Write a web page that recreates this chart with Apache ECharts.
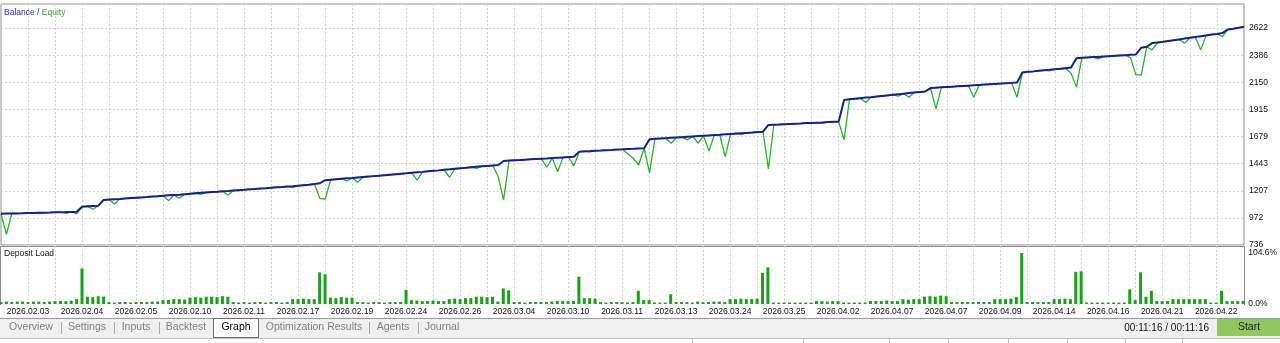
<!DOCTYPE html>
<html>
<head>
<meta charset="utf-8">
<script src="https://cdn.jsdelivr.net/npm/echarts@6/dist/echarts.min.js"></script>
<style>
html,body{margin:0;padding:0;background:#fff;}
#chart{width:1280px;height:343px;}
</style>
</head>
<body>
<div id="chart"></div>
<script>
// ---- data ----
const xLabels = ['2026.02.03','2026.02.04','2026.02.05','2026.02.10','2026.02.11','2026.02.17','2026.02.19','2026.02.24','2026.02.26','2026.03.04','2026.03.10','2026.03.11','2026.03.13','2026.03.24','2026.03.25','2026.04.02','2026.04.07','2026.04.07','2026.04.09','2026.04.14','2026.04.16','2026.04.21','2026.04.22'];
const yTicks = [736,972,1207,1443,1679,1915,2150,2386,2622];
const depositTicks = [0, 104.6];

const balance = [
1008,1009,1010,1011,1012,1014,1015,1016,1017,1018,1020,1021,1022,1024,1025,
1069,1072,1075,1078,
1128,1131,1134,1137,1141,1144,1147,1150,1153,1157,1160,1164,1168,1171,1174,1178,1182,1186,1190,1193,1196,1199,1203,1206,1210,1213,1216,1220,1223,1227,1230,1234,1238,1241,1245,1248,1252,1256,1260,1266,1273,
1300,1304,1308,1312,1316,1319,1323,1327,1331,1335,1339,1343,1347,1351,
1355,1359,1364,1368,1372,1377,1381,1385,1390,1394,1399,1403,1407,1412,1416,1420,1424,1428,1432,
1467,1470,1473,1475,1478,1481,1484,1487,1489,1492,1495,1498,1501,1504,
1548,1551,1553,1556,1558,1561,1563,1566,1568,1571,1573,1576,1578,
1656,1659,1662,1665,1668,1671,1674,1677,1680,1683,1686,1689,1692,1695,1699,1702,1705,1708,1711,1714,1718,1722,
1780,1782,1784,1787,1789,1791,1793,1796,1798,1800,1802,1805,1807,1809,
1998,2003,2008,2013,2018,2022,2027,2032,2037,2042,2047,2052,2057,2062,2067,2071,
2101,2104,2107,2110,2113,2116,2119,2122,2125,2128,2131,2134,2137,2140,2143,2146,2149,
2237,2242,2246,2251,2256,2260,2265,2269,2274,2279,
2361,2364,2367,2370,2372,2375,2378,2381,2384,2387,2390,
2393,2452,2460,2492,
2497,2503,2510,2517,2524,2531,2538,2545,2552,2559,2566,2572,2579,
2610,2617,2625,2634
];

// equity differs from balance only at these trade indices: [index, equity]
const equityDips = [
[1,829],[7,1010],[12,1012],[14,1006],[17,1047],[21,1093],[31,1122],[33,1142],[37,1177],[42,1171],[54,1235],
[59,1140],[60,1136],[64,1293],[66,1282],[77,1300],[83,1325],[88,1402],[92,1330],[93,1128],[101,1412],[103,1374],
[106,1424],[109,1545],[116,1530],[117,1490],[118,1432],[120,1365],[124,1621],[127,1650],[129,1621],[131,1554],
[134,1505],[137,1698],[142,1397],[152,1795],[156,1650],[160,1975],[166,2030],[168,2022],[173,1920],[180,2021],
[188,2021],[194,2250],[198,2230],[199,2109],[203,2355],[209,2366],[210,2216],[211,2216],[213,2433],[219,2492],
[222,2433],[226,2549]
];

const depositLoad = [
4,5,4,5,5,4,5,5,4,5,
6,6,6,7,
10,73,
15,14,16,15,
4,3,4,4,3,4,4,4,5,5,
8,8,10,10,9,
13,14,13,15,15,14,16,15,
4,3,4,3,4,4,3,4,4,3,4,
10,10,11,10,10,
65,61,
13,12,14,13,13,
4,4,3,4,4,3,4,4,4,
29,
8,7,6,6,7,6,6,
10,11,10,12,12,15,15,14,15,
5,32,28,
4,4,3,4,4,4,4,5,6,6,6,
6,56,
12,12,11,
4,3,4,4,4,3,4,
27,8,8,
3,3,3,20,
4,4,4,3,5,4,4,5,5,4,
10,10,11,10,10,11,
64,75,
3,3,3,3,3,3,3,3,
6,6,5,6,6,
3,3,3,3,3,
6,6,6,7,6,6,
10,9,10,10,
15,16,15,17,16,
4,4,4,4,4,4,4,4,
10,10,10,11,
14,104.6,
4,4,4,4,4,
10,10,11,10,
66,67,
3,3,3,3,3,3,3,3,
30,8,65,15,27,
6,6,6,
10,10,10,10,10,10,10,
3,3,27,
6,6,6,6
];

// ---- build ----
const equity = balance.slice();
equityDips.forEach(function(d){ equity[d[0]] = d[1]; });
const cats = balance.map(function(_, i){ return i % 10 === 5 ? xLabels[(i - 5) / 10] : ''; });

const FONT = '"Liberation Sans", Arial, sans-serif';
const Y0 = 736, YSTEP = 235.75;
const gridLine = { show: true, lineStyle: { color: '#d4d4d4', type: [2, 2], width: 1 } };
const splitIdx = function(i){ return i % 5 === 0 && i > 0 && i < balance.length - 1; };

const chart = echarts.init(document.getElementById('chart'), null, { renderer: 'canvas' });

const tabs = [
  ['Overview', 31], ['Settings', 87], ['Inputs', 136], ['Backtest', 186], ['Graph', 236],
  ['Optimization Results', 314], ['Agents', 393], ['Journal', 442]
];
const seps = [61, 114, 159, 369, 418];
const bottomTicks = [692, 803, 889, 948, 1008, 1067, 1125, 1182];

const graphic = [];
graphic.push({ type: 'rect', z: 0, shape: { x: 0, y: 318, width: 1280, height: 20 }, style: { fill: '#f0f0f0' } });
graphic.push({ type: 'line', shape: { x1: 0, y1: 318.5, x2: 1280, y2: 318.5 }, style: { stroke: '#9a9a9a', lineWidth: 1 } });
graphic.push({ type: 'line', shape: { x1: 0, y1: 338.5, x2: 1280, y2: 338.5 }, style: { stroke: '#c4c4c4', lineWidth: 1 } });
graphic.push({ type: 'rect', shape: { x: 213.5, y: 318.5, width: 45, height: 19 }, style: { fill: '#ffffff', stroke: '#6e6e6e', lineWidth: 1 } });
tabs.forEach(function(t){
  graphic.push({ type: 'text', x: t[1], y: 327.5, style: { text: t[0], fill: t[0] === 'Graph' ? '#000' : '#808080', font: '10.5px ' + FONT, textAlign: 'center', textVerticalAlign: 'middle' } });
});
seps.forEach(function(x){
  graphic.push({ type: 'line', shape: { x1: x + 0.5, y1: 322, x2: x + 0.5, y2: 334 }, style: { stroke: '#a8a8a8', lineWidth: 1 } });
});
bottomTicks.forEach(function(x){
  graphic.push({ type: 'line', shape: { x1: x + 0.5, y1: 339, x2: x + 0.5, y2: 343 }, style: { stroke: '#b8b8b8', lineWidth: 1 } });
});
graphic.push({ type: 'text', x: 1209, y: 328, style: { text: '00:11:16 / 00:11:16', fill: '#111', font: '10px ' + FONT, textAlign: 'right', textVerticalAlign: 'middle' } });
graphic.push({ type: 'rect', shape: { x: 1217, y: 319, width: 63, height: 17 }, style: { fill: '#8fc85c' } });
graphic.push({ type: 'text', x: 1249, y: 327.5, style: { text: 'Start', fill: '#1a1a1a', font: '10.5px ' + FONT, textAlign: 'center', textVerticalAlign: 'middle' } });
// panel borders for deposit load
graphic.push({ type: 'line', shape: { x1: 0.5, y1: 246.5, x2: 1244.5, y2: 246.5 }, style: { stroke: '#8c8c8c', lineWidth: 1 } });
graphic.push({ type: 'line', shape: { x1: 0.5, y1: 246, x2: 0.5, y2: 305 }, style: { stroke: '#8c8c8c', lineWidth: 1 } });
graphic.push({ type: 'line', shape: { x1: 1244.5, y1: 246, x2: 1244.5, y2: 305 }, style: { stroke: '#8c8c8c', lineWidth: 1 } });
// captions
graphic.push({ type: 'text', x: 4, y: 13, z: 10, style: {
  text: '{b|Balance} {s|/} {g|Equity}', font: '8.5px ' + FONT, textVerticalAlign: 'middle',
  rich: { b: { fill: '#2b2bb0', font: '8.5px ' + FONT }, s: { fill: '#444', font: '8.5px ' + FONT }, g: { fill: '#2eaa2e', font: '8.5px ' + FONT } }
} });
graphic.push({ type: 'text', x: 4, y: 253.5, z: 10, style: { text: 'Deposit Load', fill: '#111', font: '8.5px ' + FONT, textVerticalAlign: 'middle' } });

const option = {
  animation: false,
  backgroundColor: '#ffffff',
  grid: [
    { left: 1, top: 4, right: 36, height: 241, show: true, borderColor: '#8c8c8c', borderWidth: 1, backgroundColor: '#fff' },
    { left: 1, top: 246, right: 36, height: 58, show: false }
  ],
  xAxis: [
    { type: 'category', gridIndex: 0, data: cats, boundaryGap: false,
      axisLine: { show: false }, axisTick: { show: false }, axisLabel: { show: false },
      splitLine: Object.assign({ interval: splitIdx }, gridLine) },
    { type: 'category', gridIndex: 1, data: cats, boundaryGap: false,
      axisLine: { show: false }, axisTick: { show: false },
      axisLabel: { show: true, interval: function(i, v){ return v !== ''; }, color: '#111', fontSize: 8.5, fontFamily: FONT, margin: 3 },
      splitLine: Object.assign({ interval: splitIdx }, gridLine) }
  ],
  yAxis: [
    { type: 'value', gridIndex: 0, position: 'right', min: Y0, max: 2832, interval: YSTEP,
      axisLine: { show: false }, axisTick: { show: false },
      axisLabel: { color: '#111', fontSize: 8.5, fontFamily: FONT, margin: 5,
        formatter: function(v){ const k = Math.round((v - Y0) / YSTEP); return (Math.abs(v - (Y0 + k * YSTEP)) < 0.5 && k < yTicks.length) ? String(yTicks[k]) : ''; } },
      splitLine: gridLine },
    { type: 'value', gridIndex: 1, position: 'right', min: 0, max: 119, interval: 104.6,
      axisLine: { show: false }, axisTick: { show: false }, splitLine: { show: false },
      axisLabel: { color: '#111', fontSize: 8.5, fontFamily: FONT, margin: 5,
        formatter: function(v){ for (let k = 0; k < depositTicks.length; k++) { if (Math.abs(v - depositTicks[k]) < 0.01) return depositTicks[k].toFixed(1) + '%'; } return ''; } } }
  ],
  series: [
    { name: 'Equity', type: 'line', xAxisIndex: 0, yAxisIndex: 0, data: equity, showSymbol: false, symbol: 'none',
      lineStyle: { color: '#2bb02b', width: 1.3 }, z: 2 },
    { name: 'Balance', type: 'line', xAxisIndex: 0, yAxisIndex: 0, data: balance, showSymbol: false, symbol: 'none',
      lineStyle: { color: '#14208c', width: 2 }, z: 3 },
    { name: 'Deposit Load', type: 'bar', xAxisIndex: 1, yAxisIndex: 1, data: depositLoad, barWidth: 3,
      itemStyle: { color: '#16a416' } }
  ],
  graphic: graphic
};
chart.setOption(option);
</script>
</body>
</html>
